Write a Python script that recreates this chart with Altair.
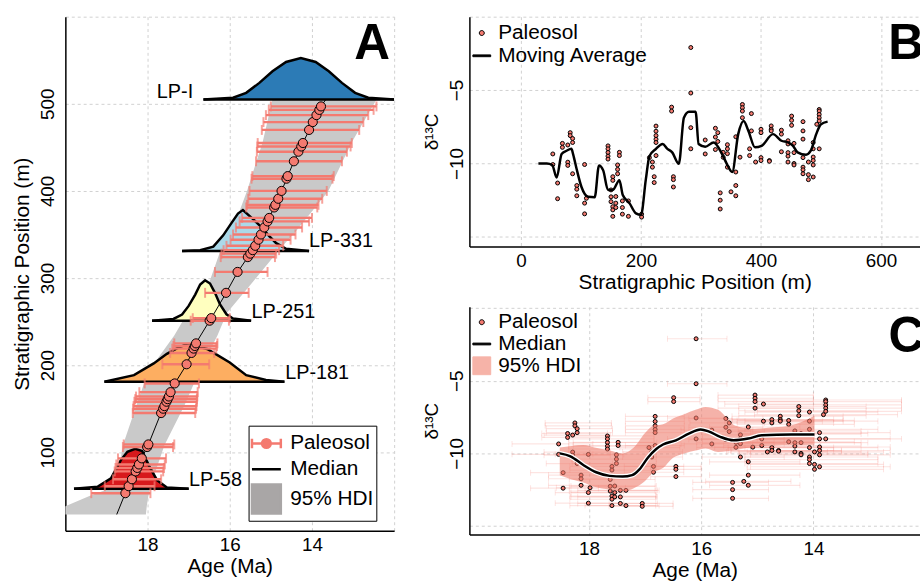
import altair as alt
import pandas as pd

FONT = "Liberation Sans"
SALMON = "#f47a70"
GRAY_BAND = "#c9c9c9"
HDI_LEG_GRAY = "#a9a6a6"
PINK_BAND = "#ee7a6a"
PINK_LEG = "#f6b3a8"

# ---------------- sampled levels (stratigraphic position, age model, 95% age range) ----------------
lev_pos = [53, 61, 69, 78, 82, 86, 93, 106, 109, 145, 150, 153, 158, 161, 164, 169, 179, 201, 214, 219,
           222, 225, 251, 254, 283, 307, 324, 328, 332, 337, 344, 350, 358, 365, 369, 381, 384, 391, 400, 414,
           417, 434, 445, 451, 455, 470, 479, 487, 493, 497]
lev_age = [18.54, 18.46, 18.38, 18.29, 18.25, 18.21, 18.14, 18.01, 17.98, 17.67, 17.62, 17.59, 17.54, 17.51,
           17.48, 17.44, 17.34, 17.05, 16.93, 16.88, 16.85, 16.82, 16.49, 16.45, 16.09, 15.81, 15.56, 15.5,
           15.44, 15.38, 15.3, 15.24, 15.16, 15.08, 15.04, 14.92, 14.89, 14.82, 14.74, 14.62, 14.59, 14.44,
           14.33, 14.26, 14.22, 14.07, 13.98, 13.89, 13.82, 13.78]
lev_old = [19.37, 19.04, 18.84, 18.8, 18.78, 18.76, 18.72, 18.6, 18.58, 18.36, 18.35, 18.34, 18.32, 18.3,
           18.28, 18.2, 18.07, 17.64, 17.45, 17.4, 17.37, 17.35, 16.95, 16.9, 16.6, 16.36, 16.22, 16.2, 16.15,
           16.08, 15.98, 15.92, 15.85, 15.76, 15.7, 15.6, 15.58, 15.55, 15.52, 15.47, 15.45, 15.36, 15.34,
           15.33, 15.32, 15.22, 15.18, 15.12, 15.05, 15.0]
lev_young = [17.93, 17.83, 17.67, 17.62, 17.6, 17.58, 17.55, 17.38, 17.35, 16.84, 16.82, 16.81, 16.8, 16.8,
             16.79, 16.78, 16.75, 16.5, 16.38, 16.33, 16.31, 16.3, 16.02, 16.0, 15.54, 15.08, 14.9, 14.87,
             14.8, 14.7, 14.52, 14.4, 14.24, 14.07, 14.0, 13.87, 13.84, 13.75, 13.64, 13.5, 13.47, 13.27,
             13.15, 13.06, 13.03, 12.85, 12.75, 12.63, 12.5, 12.43]
lev_d13c = [
    [-9.35, -10.07], [-11.33, -12.4], [-8.63, -8.9], [-8.74, -9.91, -10.13], [-7.9, -8.1],
    [-8.3, -8.57, -10.7], [-11.5, -11.75, -12.2], [-10.07, -12.7, -13.43], [-12.37],
    [-8.8, -9.0, -9.25, -9.5, -9.7], [-11.8, -12.27, -12.6], [-12.94, -13.16, -13.6, -10.9, -11.15],
    [-12.25, -12.7, -13.0], [-10.1, -10.4, -10.7], [-9.24, -9.46], [-12.55, -13.0, -13.45],
    [-12.55, -13.6], [-13.45, -13.65], [-9.6], [-9.9, -10.25], [-10.9, -11.3],
    [-7.45, -7.8, -8.1, -8.35, -8.57, -9.46], [-6.16, -6.43], [-10.9, -11.1, -11.6],
    [-2.1, -5.2, -7.56, -9.0], [-8.4, -9.35], [-7.6, -8.2, -9.05], [-7.9, -8.5], [-12.0, -12.5, -13.1],
    [-9.24, -9.58], [-8.72, -9.0, -9.33, -10.25], [-11.93], [-8.18, -10.58, -11.5, -12.2], [-9.57],
    [-5.98, -6.2, -6.43, -6.88], [-9.0, -9.46], [-6.6, -7.78], [-9.9], [-7.67, -7.9, -9.6, -9.8],
    [-9.8, -9.85], [-7.44, -7.67, -7.78], [-7.73, -8.0, -9.2], [-8.45, -8.67, -9.26, -9.5, -9.9],
    [-6.77, -7.06, -7.4], [-10.0, -10.1, -8.63, -9.26], [-7.15, -7.78, -8.34, -9.6, -10.25, -10.43, -10.7],
    [-10.76, -11.1, -9.9], [-8.57, -9.0, -9.56, -9.8, -10.1, -10.92], [-7.33],
    [-6.32, -6.43, -6.66, -6.88, -7.1, -9.0],
]

# ---------------- panel A: age model ----------------
medA_pos = [28.6, 52, 110, 143, 178, 200, 227, 261, 282, 306, 335, 371, 401, 435, 458, 498, 505]
medA_age = [18.75, 18.55, 17.97, 17.69, 17.35, 17.06, 16.8, 16.36, 16.1, 15.82, 15.4, 15.02, 14.73, 14.43,
            14.19, 13.77, 13.66]
bandA_pos = [28.6, 38, 50, 57, 65, 108, 154, 192, 234, 260, 295, 335, 353, 400, 456, 505]
bandA_old = [20.6, 20.0, 19.4, 19.0, 18.75, 18.6, 18.27, 17.99, 17.35, 17.03, 16.5, 16.2, 15.95, 15.58,
             15.2, 14.96]
bandA_young = [18.04, 18.02, 17.98, 17.95, 17.9, 17.59, 17.1, 16.75, 16.3, 16.07, 15.45, 14.75, 14.4, 13.6,
               13.03, 12.43]

# dated horizons: (age, height above the horizon in m)
dist_names = ["LP-58", "LP-181", "LP-251", "LP-331", "LP-I"]
dist_base = [58, 181, 251, 331, 505]
dist_colors = ["#d7191c", "#fdae61", "#ffffbf", "#abd9e9", "#2c7bb6"]
dist_ages = [
    [19.79, 19.21, 18.89, 18.65, 18.49, 18.3, 18.13, 17.97, 17.77, 17.53, 17.0],
    [19.05, 18.33, 17.85, 17.53, 17.3, 17.1, 16.8, 16.55, 16.35, 16.0, 15.6, 15.12, 14.67],
    [17.89, 17.37, 17.16, 17.0, 16.84, 16.72, 16.6, 16.48, 16.36, 16.24, 16.08, 15.92, 15.48],
    [17.16, 16.72, 16.4, 16.16, 15.96, 15.8, 15.68, 15.44, 15.2, 15.04, 14.87, 14.63, 14.07],
    [16.64, 15.92, 15.6, 15.28, 14.96, 14.63, 14.27, 13.91, 13.59, 13.27, 12.95, 12.63, 12.0],
]
dist_heights = [
    [0, 2.5, 12, 33, 42.6, 46, 43.3, 27, 10, 1.5, 0],
    [0, 7.5, 21, 32, 38, 42, 40.5, 37.5, 32, 22, 7.5, 2, 0],
    [0, 2, 7, 17, 30, 41.5, 46.5, 42.7, 32, 19, 7.4, 2.5, 0],
    [0, 1, 5, 18, 32, 43, 47, 37, 26, 17, 9, 2.5, 0],
    [0, 2, 7.6, 19, 32.3, 43, 47.5, 43, 32.3, 19, 7.6, 2, 0],
]
lbl_text = ["LP-I", "LP-331", "LP-251", "LP-181", "LP-58"]
lbl_age = [16.89, 14.07, 15.47, 14.65, 16.99]
lbl_pos = [514, 342, 261.5, 191, 68.5]
lbl_align = ["right", "left", "left", "left", "left"]

# ---------------- panel B: moving average ----------------
ma_pos = [29, 43, 52, 59.5, 67.7, 76, 84, 87, 92.6, 100.8, 111.8, 122.8, 130, 137, 145, 153, 164, 169.6,
          180.7, 191.6, 200, 208, 214, 225, 236, 244, 252, 263, 271.5, 280, 291, 296, 307, 321, 335, 343,
          352, 362, 371, 379, 390, 401, 420, 434, 445, 453, 461, 475, 483, 492, 500, 511]
ma_val = [-10.0, -10.0, -10.1, -10.96, -9.35, -9.13, -9.0, -9.4, -10.36, -11.6, -12.27, -12.3, -10.13,
          -10.47, -11.8, -11.8, -11.14, -12.15, -12.7, -13.4, -13.5, -11.1, -9.5, -9.0, -8.67, -9.0, -9.24,
          -10.02, -6.88, -6.48, -6.48, -8.67, -8.86, -8.57, -9.35, -10.02, -10.58, -8.0, -7.1, -7.78, -8.9,
          -8.8, -8.0, -8.45, -8.56, -8.78, -9.24, -9.4, -9.13, -8.0, -7.33, -7.15]

# ---------------- panel C: median & 95% HDI ----------------
medC_age = [18.52, 18.33, 18.1, 17.87, 17.63, 17.4, 17.23, 17.1, 16.95, 16.8, 16.68, 16.45, 16.22, 16.01,
            15.87, 15.66, 15.42, 15.16, 14.92, 14.39, 13.98]
medC_val = [-10.0, -10.2, -10.8, -11.3, -11.55, -11.6, -11.5, -11.1, -10.3, -9.7, -9.39, -9.1, -8.64,
            -8.36, -8.48, -8.86, -9.1, -8.98, -8.75, -8.7, -8.7]
bandC_age = [18.52, 18.3, 18.1, 17.9, 17.63, 17.4, 17.2, 17.0, 16.85, 16.68, 16.5, 16.3, 16.1, 15.92, 15.7,
             15.4, 15.05, 14.7, 14.4, 13.98]
bandC_lo = [-11.5, -11.8, -12.0, -12.3, -12.5, -12.6, -12.4, -11.9, -11.3, -11.0, -10.3, -10.0, -9.8,
            -9.66, -9.9, -9.77, -9.54, -9.45, -9.43, -9.4]
bandC_hi = [-9.6, -9.5, -9.43, -9.6, -9.8, -10.0, -9.6, -8.6, -8.1, -8.0, -7.6, -7.3, -7.0, -6.8, -7.0,
            -8.07, -8.3, -8.2, -8.07, -7.4]

# ---------------- build tables ----------------
levels = pd.DataFrame(dict(pos=lev_pos, age=lev_age, old=lev_old, young=lev_young))
samples = pd.DataFrame([dict(pos=p, age=a, old=o, young=y, d13c=d)
                        for p, a, o, y, ds in zip(lev_pos, lev_age, lev_old, lev_young, lev_d13c)
                        for d in ds])
medA_df = pd.DataFrame(dict(pos=medA_pos, age=medA_age))
bandA_df = pd.DataFrame(dict(pos=bandA_pos, old=bandA_old, young=bandA_young))
dist_df = pd.DataFrame([dict(name=n, age=a, top=b + h, base=b)
                        for n, b, ages, hs in zip(dist_names, dist_base, dist_ages, dist_heights)
                        for a, h in zip(ages, hs)])
distbase_df = pd.DataFrame(dict(name=dist_names, base=dist_base,
                                start=[a[0] for a in dist_ages], end=[a[-1] for a in dist_ages]))
lbl_df = pd.DataFrame(dict(t=lbl_text, age=lbl_age, pos=lbl_pos, al=lbl_align))
ma_df = pd.DataFrame(dict(pos=ma_pos, val=ma_val))
medC_df = pd.DataFrame(dict(age=medC_age, val=medC_val))
bandC_df = pd.DataFrame(dict(age=bandC_age, lo=bandC_lo, hi=bandC_hi))

# legend symbols (unit-square SVG paths)
PATH_EB = ("M-1,-0.33L-1,0.33M-1,0L-0.3,0M0.3,0L1,0M1,-0.33L1,0.33"
           "M0.3,0A0.3,0.3,0,1,1,-0.3,0A0.3,0.3,0,1,1,0.3,0Z")
PATH_DOT = "M0.28,0A0.28,0.28,0,1,1,-0.28,0A0.28,0.28,0,1,1,0.28,0Z"
PATH_LINE = "M-1,-0.1L1,-0.1L1,0.1L-1,0.1Z"


def legend_layer(cats, fills, strokes, shapes, leg):
    sc = lambda rng: alt.Scale(domain=cats, range=rng)
    return alt.Chart(pd.DataFrame({"k": cats})).mark_point(opacity=0, size=1).encode(
        fill=alt.Fill("k:N", scale=sc(fills), legend=leg),
        stroke=alt.Stroke("k:N", scale=sc(strokes), legend=leg),
        shape=alt.Shape("k:N", scale=sc(shapes), legend=leg),
    )


# ================= Panel A =================
xA = alt.Scale(domain=[20, 12], nice=False, zero=False)
yA = alt.Scale(domain=[10, 600], nice=False, zero=False)
axA_x = alt.Axis(values=[18, 16, 14, 12], labelExpr="datum.value == 12 ? '' : datum.label")
axA_y = alt.Axis(values=[100, 200, 300, 400, 500, 600], labelExpr="datum.value == 600 ? '' : datum.label",
                 labelAngle=270, labelAlign="center", labelBaseline="bottom")


def XA(f):
    return alt.X(f, scale=xA, axis=axA_x, title="Age (Ma)")


def YA(f, **kw):
    return alt.Y(f, scale=yA, axis=axA_y, title="Stratigraphic Position (m)", **kw)


a_band = alt.Chart(bandA_df).mark_area(orient="horizontal", color=GRAY_BAND, clip=True).encode(
    y=YA("pos:Q"), x=XA("old:Q"), x2="young:Q")
a_dist = alt.Chart(dist_df).mark_area(clip=True, orient="vertical").encode(
    x=XA("age:Q"), y=YA("top:Q", stack=None), y2="base:Q",
    color=alt.Color("name:N", scale=alt.Scale(domain=dist_names, range=dist_colors), legend=None))
a_distline = alt.Chart(dist_df).mark_line(color="black", strokeWidth=2.5, clip=True).encode(
    x=XA("age:Q"), y=YA("top:Q"), detail="name:N")
a_distbase = alt.Chart(distbase_df).mark_rule(color="black", strokeWidth=2.5, clip=True).encode(
    x=XA("start:Q"), x2="end:Q", y=YA("base:Q"))
a_err = alt.Chart(levels).mark_rule(color=SALMON, strokeWidth=2.4).encode(
    x=XA("old:Q"), x2="young:Q", y=YA("pos:Q"))
a_cap1 = alt.Chart(levels).mark_tick(color=SALMON, orient="vertical", size=10, thickness=2).encode(
    x=XA("old:Q"), y=YA("pos:Q"))
a_cap2 = alt.Chart(levels).mark_tick(color=SALMON, orient="vertical", size=10, thickness=2).encode(
    x=XA("young:Q"), y=YA("pos:Q"))
a_med = alt.Chart(medA_df).mark_line(color="black", strokeWidth=1).encode(
    x=XA("age:Q"), y=YA("pos:Q"), order="pos:Q")
a_pts = alt.Chart(levels).mark_point(filled=True, color=SALMON, stroke="black", strokeWidth=1, size=85,
                                     opacity=1).encode(x=XA("age:Q"), y=YA("pos:Q"))
a_lblR = alt.Chart(lbl_df).transform_filter("datum.al == 'right'").mark_text(
    font=FONT, fontSize=20, align="right", baseline="middle").encode(
    x=XA("age:Q"), y=YA("pos:Q"), text="t:N")
a_lblL = alt.Chart(lbl_df).transform_filter("datum.al == 'left'").mark_text(
    font=FONT, fontSize=20, align="left", baseline="middle").encode(
    x=XA("age:Q"), y=YA("pos:Q"), text="t:N")
a_letter = alt.Chart(pd.DataFrame(dict(t=["A"], age=[12.1], pos=[552]))).mark_text(
    font=FONT, fontSize=50, fontWeight="bold", align="right", baseline="alphabetic", clip=True).encode(
    x=XA("age:Q"), y=YA("pos:Q"), text="t:N")
legA = alt.Legend(title=None, orient="none", legendX=185, legendY=413, direction="vertical",
                  symbolSize=850, symbolStrokeWidth=2.5, symbolOpacity=1, labelFontSize=21, labelFont=FONT,
                  labelColor="black", labelOffset=8, rowPadding=0, padding=2, strokeColor="black",
                  fillColor="white")
a_leg = legend_layer(["Paleosol", "Median", "95% HDI"], [SALMON, "transparent", HDI_LEG_GRAY],
                     [SALMON, "black", HDI_LEG_GRAY], [PATH_EB, "stroke", "square"], legA)

panelA = alt.layer(a_band, a_dist, a_distline, a_distbase, a_err, a_cap1, a_cap2, a_med, a_pts,
                   a_lblR, a_lblL, a_letter, a_leg).properties(width=332, height=519)

# ================= Panel B =================
xB = alt.Scale(domain=[-86, 665], nice=False, zero=False)
yB = alt.Scale(domain=[-15.65, 0], nice=False, zero=False)
axB_x = alt.Axis(values=[0, 200, 400, 600])
axD_y = alt.Axis(values=[-15, -10, -5, 0],
                 labelExpr="(datum.value == -15 || datum.value == 0) ? '' : datum.label",
                 labelAngle=270, labelAlign="center", labelBaseline="bottom", titleFontSize=19,
                 labelPadding=3)


def XB(f):
    return alt.X(f, scale=xB, axis=axB_x, title="Stratigraphic Position (m)")


def YB(f):
    return alt.Y(f, scale=yB, axis=axD_y, title="δ¹³C")


b_pts = alt.Chart(samples).mark_point(filled=True, color=SALMON, stroke="black", strokeWidth=1, size=16,
                                      opacity=1).encode(x=XB("pos:Q"), y=YB("d13c:Q"))
b_ma = alt.Chart(ma_df).mark_line(color="black", strokeWidth=2.5, interpolate="monotone").encode(
    x=XB("pos:Q"), y=YB("val:Q"))
b_letter = alt.Chart(pd.DataFrame(dict(t=["B"], pos=[612], val=[-2.87]))).mark_text(
    font=FONT, fontSize=50, fontWeight="bold", align="left", baseline="alphabetic", clip=True).encode(
    x=XB("pos:Q"), y=YB("val:Q"), text="t:N")
legB = alt.Legend(title=None, orient="none", legendX=2, legendY=6, direction="vertical",
                  symbolSize=324, symbolStrokeWidth=1, symbolOpacity=1, labelFontSize=21, labelFont=FONT,
                  labelColor="black", labelOffset=6, rowPadding=1, padding=0)
b_leg = legend_layer(["Paleosol", "Moving Average"], [SALMON, "black"], ["black", "black"],
                     [PATH_DOT, PATH_LINE], legB)
panelB = alt.layer(b_pts, b_ma, b_letter, b_leg).properties(width=455, height=232)

# ================= Panel C =================
xC = alt.Scale(domain=[20.13, 12.1], nice=False, zero=False)
yC = alt.Scale(domain=[-15.6, 0.1], nice=False, zero=False)
axC_x = alt.Axis(values=[18, 16, 14, 12], labelExpr="datum.value == 12 ? '' : datum.label")


def XC(f):
    return alt.X(f, scale=xC, axis=axC_x, title="Age (Ma)")


def YC(f):
    return alt.Y(f, scale=yC, axis=axD_y, title="δ¹³C")


c_err = alt.Chart(samples).mark_rule(color=SALMON, strokeWidth=1.2, opacity=0.2).encode(
    x=XC("old:Q"), x2="young:Q", y=YC("d13c:Q"))
c_cap1 = alt.Chart(samples).mark_tick(color=SALMON, orient="vertical", size=6, thickness=1,
                                      opacity=0.2).encode(x=XC("old:Q"), y=YC("d13c:Q"))
c_cap2 = alt.Chart(samples).mark_tick(color=SALMON, orient="vertical", size=6, thickness=1,
                                      opacity=0.2).encode(x=XC("young:Q"), y=YC("d13c:Q"))
c_pts = alt.Chart(samples).mark_point(filled=True, color=SALMON, stroke="black", strokeWidth=1, size=16,
                                      opacity=1).encode(x=XC("age:Q"), y=YC("d13c:Q"))
c_band = alt.Chart(bandC_df).mark_area(color=PINK_BAND, opacity=0.58, interpolate="monotone").encode(
    x=XC("age:Q"), y=YC("lo:Q"), y2="hi:Q")
c_medw = alt.Chart(medC_df).mark_line(color="white", strokeWidth=5, interpolate="monotone").encode(
    x=XC("age:Q"), y=YC("val:Q"))
c_med = alt.Chart(medC_df).mark_line(color="black", strokeWidth=2.5, interpolate="monotone").encode(
    x=XC("age:Q"), y=YC("val:Q"))
c_letter = alt.Chart(pd.DataFrame(dict(t=["C"], age=[12.66], val=[-3.04]))).mark_text(
    font=FONT, fontSize=50, fontWeight="bold", align="left", baseline="alphabetic", clip=True).encode(
    x=XC("age:Q"), y=YC("val:Q"), text="t:N")
legC = alt.Legend(title=None, orient="none", legendX=2, legendY=5, direction="vertical",
                  symbolSize=324, symbolStrokeWidth=1, symbolOpacity=1, labelFontSize=21, labelFont=FONT,
                  labelColor="black", labelOffset=6, rowPadding=0, padding=0)
c_leg = legend_layer(["Paleosol", "Median", "95% HDI"], [SALMON, "black", PINK_LEG],
                     ["black", "black", PINK_LEG], [PATH_DOT, PATH_LINE, "square"], legC)
panelC = alt.layer(c_err, c_cap1, c_cap2, c_pts, c_band, c_medw, c_med, c_letter, c_leg).properties(
    width=455, height=230)

indep = dict(fill="independent", stroke="independent", shape="independent")
right = alt.vconcat(panelB, panelC, spacing=15).resolve_scale(**indep)
chart = alt.hconcat(panelA, right, spacing=29).resolve_scale(**indep).properties(
    padding={"left": 12, "top": 14, "right": 0, "bottom": 0}
).configure_view(strokeOpacity=0).configure_axis(
    domainColor="black", domainWidth=1.5, grid=True, gridColor="#d0d0d0", gridDash=[3, 3], gridWidth=1,
    ticks=False, labelFont=FONT, titleFont=FONT, labelFontSize=19, titleFontSize=21,
    titleFontWeight="normal", labelColor="black", titleColor="black", labelPadding=5, titlePadding=1,
).configure_axisY(labelPadding=8, titlePadding=6)

chart.save("out.html", embed_options={"renderer": "svg", "actions": False})
